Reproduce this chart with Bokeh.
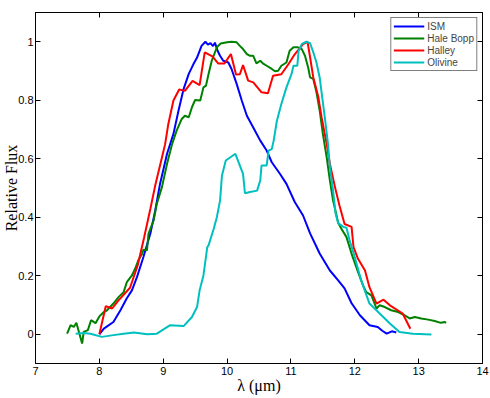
from bokeh.plotting import figure
from bokeh.models import LinearAxis, FixedTicker, Range1d, Legend, LegendItem
from bokeh.embed import file_html
from bokeh.resources import INLINE

# ---- data ----
ism_x = [8.00, 8.07, 8.22, 8.33, 8.43, 8.51, 8.59, 8.69, 8.80, 8.875, 8.95, 9.06, 9.16,
         9.24, 9.32, 9.40, 9.47, 9.53, 9.60, 9.66, 9.70, 9.74, 9.78, 9.81, 9.85, 9.89,
         9.94, 10.02, 10.07, 10.15, 10.23, 10.31, 10.41, 10.52, 10.62, 10.70, 10.83,
         10.93, 11.06, 11.19, 11.30, 11.45, 11.61, 11.74, 11.84, 11.95, 12.08, 12.23,
         12.36, 12.43, 12.50, 12.58, 12.65]
ism_y = [0.0, 0.019, 0.042, 0.082, 0.123, 0.150, 0.196, 0.264, 0.345, 0.423, 0.514, 0.617,
         0.685, 0.765, 0.839, 0.890, 0.922, 0.946, 0.986, 1.0, 0.990, 0.995, 0.985, 0.997,
         0.970, 0.952, 0.935, 0.929, 0.907, 0.856, 0.799, 0.747, 0.707, 0.662, 0.628,
         0.588, 0.548, 0.514, 0.452, 0.406, 0.345, 0.276, 0.218, 0.184, 0.157, 0.106,
         0.065, 0.031, 0.025, 0.012, 0.002, 0.010, 0.006]

hb_x = [7.495, 7.55, 7.60, 7.64, 7.68, 7.73, 7.755, 7.82, 7.87, 7.94, 8.00, 8.07, 8.12,
        8.22, 8.30, 8.38, 8.43, 8.51, 8.56, 8.61, 8.67, 8.69, 8.745, 8.77, 8.85, 8.90,
        8.98, 9.06, 9.14, 9.21, 9.29, 9.34, 9.40, 9.45, 9.50, 9.58, 9.63, 9.67, 9.71,
        9.76, 9.84, 9.90, 10.00, 10.07, 10.15, 10.20, 10.25, 10.31, 10.36, 10.41, 10.46,
        10.52, 10.56, 10.62, 10.70, 10.75, 10.80, 10.85, 10.93, 10.98, 11.04, 11.11,
        11.17, 11.22, 11.27, 11.30, 11.35, 11.40, 11.45, 11.50, 11.56, 11.61, 11.66,
        11.74, 11.79, 11.87, 11.95, 12.05, 12.13, 12.18, 12.26, 12.34, 12.39, 12.47,
        12.57, 12.68, 12.78, 12.86, 12.94, 13.04, 13.15, 13.25, 13.35, 13.41, 13.43]
hb_y = [0.002, 0.031, 0.025, 0.039, 0.008, -0.032, 0.008, 0.014, 0.048, 0.038, 0.061,
        0.076, 0.082, 0.105, 0.127, 0.144, 0.178, 0.201, 0.224, 0.253, 0.275, 0.289,
        0.287, 0.344, 0.389, 0.446, 0.503, 0.583, 0.651, 0.696, 0.736, 0.747, 0.742,
        0.776, 0.801, 0.799, 0.844, 0.850, 0.890, 0.935, 0.981, 0.994, 0.998, 1.0, 0.998,
        0.986, 0.975, 0.958, 0.952, 0.952, 0.926, 0.935, 0.926, 0.918, 0.907, 0.899,
        0.901, 0.918, 0.929, 0.969, 0.981, 0.981, 0.975, 0.952, 0.912, 0.878, 0.873,
        0.827, 0.765, 0.685, 0.605, 0.526, 0.457, 0.381, 0.361, 0.332, 0.275, 0.213,
        0.167, 0.144, 0.133, 0.088, 0.099, 0.093, 0.082, 0.076, 0.065, 0.054, 0.059,
        0.054, 0.050, 0.045, 0.039, 0.042, 0.039]

halley_x = [8.00, 8.10, 8.20, 8.30, 8.48, 8.60, 8.70, 8.80, 8.88, 8.95, 9.03, 9.08, 9.16,
            9.25, 9.34, 9.46, 9.57, 9.65, 9.77, 9.86, 9.96, 10.06, 10.14, 10.20, 10.25,
            10.33, 10.41, 10.54, 10.64, 10.72, 10.85, 10.96, 11.06, 11.19, 11.26, 11.30,
            11.35, 11.43, 11.48, 11.56, 11.61, 11.69, 11.76, 11.84, 11.95, 11.98, 12.05,
            12.16, 12.23, 12.34, 12.45, 12.55, 12.75, 12.87]
halley_y = [0.0, 0.096, 0.088, 0.116, 0.159, 0.235, 0.330, 0.430, 0.514, 0.577, 0.650,
            0.719, 0.799, 0.837, 0.832, 0.866, 0.852, 0.964, 0.950, 0.926, 0.926, 0.958,
            0.888, 0.889, 0.920, 0.867, 0.861, 0.827, 0.824, 0.884, 0.889, 0.923, 0.957,
            0.992, 1.0, 0.947, 0.878, 0.810, 0.742, 0.651, 0.582, 0.503, 0.440, 0.377,
            0.367, 0.298, 0.258, 0.218, 0.161, 0.105, 0.118, 0.099, 0.071, 0.019]

oliv_x = [7.63, 7.76, 7.86, 8.04, 8.22, 8.38, 8.54, 8.75, 8.90, 9.11, 9.32, 9.45, 9.53,
          9.57, 9.63, 9.69, 9.71, 9.79, 9.84, 9.89, 9.92, 9.98, 10.13, 10.25, 10.28,
          10.36, 10.47, 10.52, 10.54, 10.62, 10.65, 10.70, 10.73, 10.78, 10.85, 10.93,
          11.01, 11.04, 11.10, 11.12, 11.17, 11.24, 11.30, 11.35, 11.40, 11.45, 11.49,
          11.53, 11.58, 11.61, 11.66, 11.70, 11.74, 11.82, 11.87, 11.92, 12.00, 12.10,
          12.23, 12.39, 12.55, 12.70, 12.91, 13.20]
oliv_y = [0.002, 0.004, 0.002, -0.009, -0.003, 0.002, 0.006, 0.0, 0.002, 0.031, 0.028,
          0.059, 0.093, 0.150, 0.201, 0.298, 0.304, 0.360, 0.400, 0.457, 0.543, 0.594,
          0.617, 0.548, 0.482, 0.486, 0.491, 0.526, 0.577, 0.577, 0.628, 0.633, 0.662,
          0.730, 0.787, 0.844, 0.890, 0.918, 0.918, 0.969, 0.992, 1.0, 0.995, 0.964,
          0.929, 0.878, 0.810, 0.742, 0.651, 0.571, 0.491, 0.412, 0.380, 0.367, 0.364,
          0.320, 0.263, 0.184, 0.105, 0.071, 0.037, 0.008, 0.002, -0.001]

series_names = ["ISM", "Hale Bopp", "Halley", "Olivine"]
series_colors = ["#0000ff", "#008000", "#ff0000", "#00bfbf"]

x_ticks = [7, 8, 9, 10, 11, 12, 13, 14]
x_tick_labels = ["7", "8", "9", "10", "11", "12", "13", "14"]
y_ticks = [0, 0.2, 0.4, 0.6, 0.8, 1]
y_tick_labels = ["0", "0.2", "0.4", "0.6", "0.8", "1"]

# ---- figure ----
p = figure(width=490, height=398, x_range=Range1d(7, 14), y_range=Range1d(-0.1, 1.1),
           output_backend="svg", toolbar_location=None,
           min_border_left=0, min_border_right=8, min_border_top=12, min_border_bottom=35,
           background_fill_color="white", border_fill_color="white")
p.grid.visible = False
p.outline_line_color = "black"
p.outline_line_width = 1
p.outline_line_alpha = 1

p.xaxis.ticker = FixedTicker(ticks=x_ticks)
p.xaxis.major_label_overrides = dict(zip(x_ticks, x_tick_labels))
p.yaxis.ticker = FixedTicker(ticks=y_ticks)
p.yaxis.major_label_overrides = dict(zip(y_ticks, y_tick_labels))

for ax in (p.xaxis[0], p.yaxis[0]):
    ax.major_tick_in = 5
    ax.major_tick_out = 0
    ax.minor_tick_line_color = None
    ax.axis_line_color = "black"
    ax.major_tick_line_color = "black"
    ax.major_label_text_font = "Liberation Sans"
    ax.major_label_text_font_size = "11px"
    ax.major_label_text_color = "black"
    ax.axis_label_text_font = "Liberation Serif"
    ax.axis_label_text_font_size = "16px"
    ax.axis_label_text_font_style = "normal"
    ax.axis_label_text_color = "black"

p.xaxis.axis_label = "λ (μm)"
p.yaxis.axis_label = "Relative Flux"
p.xaxis.major_label_standoff = 3
p.xaxis.axis_label_standoff = -1
p.yaxis.major_label_standoff = 2
p.yaxis.axis_label_standoff = -5

top = LinearAxis(ticker=FixedTicker(ticks=x_ticks), major_tick_in=5, major_tick_out=0,
                 minor_tick_line_color=None, major_label_text_font_size="1px",
                 major_label_text_color=None, major_label_standoff=0,
                 axis_line_color="black")
right = LinearAxis(ticker=FixedTicker(ticks=y_ticks), major_tick_in=5, major_tick_out=0,
                   minor_tick_line_color=None, major_label_text_font_size="1px",
                   major_label_text_color=None, major_label_standoff=0,
                   axis_line_color="black")
p.add_layout(top, "above")
p.add_layout(right, "right")

xs = [ism_x, hb_x, halley_x, oliv_x]
ys = [ism_y, hb_y, halley_y, oliv_y]
items = []
for x, y, name, col in zip(xs, ys, series_names, series_colors):
    r = p.line(x, y, line_color=col, line_width=2)
    items.append(LegendItem(label=name, renderers=[r]))

legend = Legend(items=items, location="top_right", border_line_color="black",
                border_line_width=1, background_fill_color="white", background_fill_alpha=1,
                label_text_font="Liberation Sans", label_text_font_size="10px",
                glyph_width=31, glyph_height=12, label_height=12, spacing=0,
                padding=2, margin=5, label_standoff=3)
p.add_layout(legend)

open("out.html", "w").write(file_html(p, INLINE))
